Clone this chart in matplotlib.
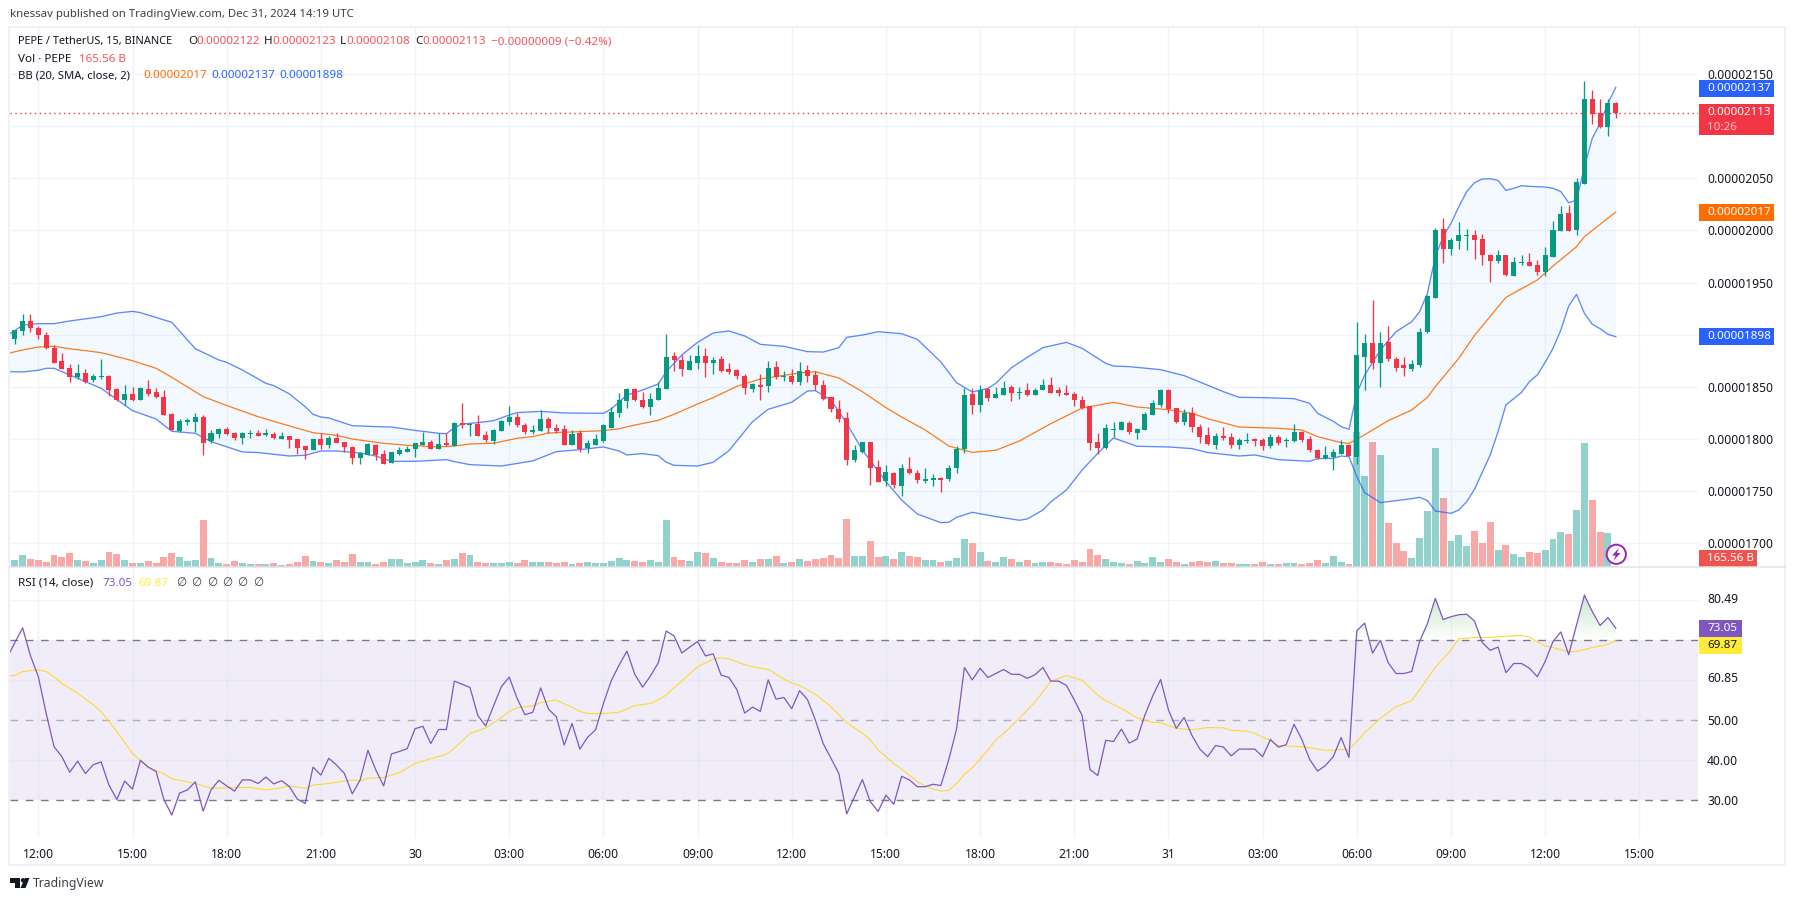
import numpy as np
import matplotlib
matplotlib.use('Agg')
import matplotlib.pyplot as plt
from matplotlib.patches import Rectangle, Circle, Polygon
from matplotlib.ticker import FuncFormatter

plt.rcParams['font.family'] = ['Noto Sans', 'DejaVu Sans']

# prices are in units of 0.00000001, bars are 15 min apart, bar 0 = Dec 29 11:15
opens = [
    1896,1904,1913,1906,1900,1887,1875,1868,1859,1863,
    1857,1859,1860,1848,1837,1843,1837,1848,1845,1840,
    1824,1808,1816,1816,1821,1798,1805,1810,1806,1801,
    1805,1806,1804,1805,1800,1803,1800,1793,1789,1800,
    1794,1801,1797,1792,1782,1785,1794,1786,1777,1786,
    1788,1790,1794,1797,1790,1796,1793,1815,1813,1814,
    1804,1798,1808,1816,1821,1813,1807,1808,1819,1811,
    1810,1794,1806,1791,1794,1798,1811,1825,1836,1848,
    1837,1831,1837,1848,1880,1876,1866,1873,1880,1873,
    1877,1867,1866,1860,1848,1852,1851,1869,1859,1860,
    1855,1866,1861,1852,1840,1829,1820,1780,1788,1797,
    1773,1760,1767,1755,1771,1767,1760,1761,1763,1762,
    1772,1790,1843,1833,1848,1839,1842,1850,1844,1847,
    1842,1847,1852,1847,1844,1843,1837,1832,1797,1791,
    1809,1809,1815,1806,1809,1823,1833,1847,1830,1816,
    1825,1812,1804,1794,1803,1802,1794,1798,1800,1799,
    1793,1802,1798,1798,1807,1800,1789,1782,1783,1786,
    1794,1783,1879,1892,1873,1893,1877,1871,1867,1871,
    1903,1935,2001,1982,1990,1995,1996,1992,1976,1971,
    1976,1956,1969,1970,1967,1960,1975,1999,2017,2000,
    2045,2126,2113,2099,2122]
highs = [
    1905,1920,1920,1908,1903,1890,1882,1872,1872,1867,
    1862,1877,1861,1849,1852,1850,1850,1857,1849,1847,
    1825,1819,1820,1825,1823,1809,1811,1812,1807,1807,
    1809,1809,1810,1807,1807,1803,1800,1793,1800,1806,
    1803,1806,1797,1793,1788,1796,1795,1789,1788,1792,
    1793,1796,1807,1799,1806,1806,1816,1835,1815,1823,
    1808,1810,1818,1832,1825,1815,1813,1828,1821,1814,
    1813,1809,1809,1799,1805,1814,1831,1844,1849,1849,
    1845,1844,1855,1901,1883,1881,1881,1890,1887,1879,
    1880,1873,1867,1862,1854,1862,1875,1875,1865,1867,
    1874,1871,1865,1857,1840,1837,1826,1794,1797,1797,
    1780,1775,1768,1776,1783,1770,1772,1766,1764,1775,
    1793,1849,1849,1852,1849,1850,1856,1852,1850,1854,
    1849,1858,1859,1850,1852,1845,1841,1832,1806,1814,
    1816,1817,1817,1811,1826,1837,1848,1848,1830,1829,
    1831,1814,1812,1806,1812,1806,1801,1806,1801,1801,
    1805,1804,1801,1814,1808,1803,1790,1793,1790,1799,
    1795,1912,1901,1933,1903,1908,1879,1879,1876,1906,
    1938,2002,2012,1993,2008,2001,2000,1997,1977,1981,
    1976,1975,1976,1978,1972,1984,2009,2023,2024,2050,
    2143,2135,2126,2126,2123]
lows = [
    1891,1900,1903,1896,1886,1873,1867,1855,1858,1854,
    1855,1858,1841,1836,1833,1836,1837,1841,1839,1823,
    1809,1807,1813,1807,1785,1796,1801,1804,1799,1795,
    1801,1803,1803,1800,1800,1791,1786,1781,1789,1790,
    1791,1796,1788,1776,1776,1785,1780,1776,1777,1785,
    1788,1783,1794,1790,1790,1793,1793,1811,1803,1803,
    1797,1795,1808,1813,1812,1805,1805,1808,1806,1806,
    1794,1794,1788,1787,1794,1797,1811,1821,1830,1836,
    1830,1823,1837,1848,1865,1860,1866,1867,1859,1862,
    1864,1862,1858,1843,1845,1837,1845,1858,1856,1853,
    1852,1855,1847,1837,1826,1816,1775,1778,1787,1756,
    1759,1755,1753,1745,1766,1758,1758,1755,1749,1760,
    1767,1787,1824,1826,1836,1839,1842,1836,1838,1841,
    1842,1847,1844,1841,1842,1832,1829,1789,1786,1790,
    1802,1809,1805,1800,1809,1823,1831,1825,1815,1813,
    1807,1796,1794,1790,1799,1791,1790,1796,1793,1789,
    1791,1794,1792,1797,1797,1788,1781,1781,1770,1786,
    1784,1776,1847,1867,1850,1875,1865,1860,1865,1869,
    1902,1935,1969,1976,1982,1981,1973,1967,1951,1969,
    1956,1956,1967,1966,1957,1956,1975,1999,1999,1996,
    2045,2102,2098,2091,2108]
closes = [
    1905,1913,1906,1900,1887,1873,1867,1859,1863,1855,
    1860,1860,1847,1837,1843,1837,1849,1843,1840,1823,
    1809,1817,1818,1821,1796,1806,1810,1805,1801,1806,
    1806,1803,1806,1801,1803,1799,1791,1789,1800,1794,
    1801,1796,1792,1782,1787,1795,1785,1776,1788,1789,
    1790,1796,1797,1790,1795,1794,1815,1813,1814,1803,
    1799,1809,1817,1821,1813,1807,1809,1819,1811,1808,
    1794,1805,1790,1796,1800,1813,1826,1837,1848,1837,
    1831,1838,1849,1879,1876,1867,1875,1880,1873,1876,
    1865,1864,1860,1849,1853,1850,1868,1859,1860,1855,
    1865,1860,1852,1838,1829,1819,1780,1789,1797,1772,
    1759,1768,1756,1772,1767,1761,1762,1763,1761,1772,
    1790,1842,1833,1847,1839,1843,1849,1844,1845,1842,
    1847,1852,1844,1844,1842,1837,1830,1796,1791,1811,
    1810,1816,1807,1810,1824,1835,1847,1829,1816,1825,
    1812,1802,1795,1803,1801,1794,1799,1799,1798,1793,
    1802,1796,1799,1807,1799,1789,1782,1785,1788,1794,
    1784,1881,1892,1873,1892,1877,1868,1868,1872,1903,
    1937,2000,1982,1991,1996,1996,1991,1976,1971,1976,
    1957,1970,1970,1966,1960,1976,2000,2016,1999,2046,
    2126,2112,2099,2122,2113]
# volume in billions
volumes = [
    1100,1850,1250,1100,800,1850,1550,2150,1100,950,
    650,1100,2300,2000,1100,650,650,950,650,1550,
    2150,1550,950,1100,7100,1400,650,500,950,650,
    500,500,500,650,350,500,800,1700,950,800,
    650,1100,800,2000,800,800,500,800,1250,1250,
    650,800,1100,650,500,1100,1250,2150,1850,800,
    650,650,650,800,650,1100,800,800,800,650,
    800,500,650,800,650,650,950,1400,1100,950,
    800,1100,800,7100,1550,1100,950,2300,2150,1400,
    800,650,650,1100,800,1250,1250,1700,650,800,
    1250,950,1250,1400,1850,1400,7250,1700,1700,3950,
    1550,1700,1250,2300,1700,1550,1100,1100,800,950,
    1400,4250,3650,2300,950,800,1550,1250,800,1100,
    650,800,800,650,500,1100,800,2750,1850,1250,
    800,650,500,950,650,1550,800,1250,800,500,
    800,950,800,950,650,650,500,500,500,800,
    500,500,650,650,500,650,1100,650,1700,800,
    450,20250,13650,18750,16800,6600,3600,2400,1350,4350,
    8400,17850,10350,3900,4800,3150,5400,3600,6750,2550,
    3300,1950,1500,2250,2100,2550,4200,5250,4950,8550,
    18600,10050,5250,5100,165.56]

upper_bars = [-1,0,1,3,5,7,11,13,15,16,20,23,26,27,29,32,33,35,37,38,39,40,43,46,48,51,54,55,
    56,57,59,61,63,64,67,70,75,76,78,80,82,83,85,87,89,91,93,95,98,101,103,105,106,108,110,
    113,115,118,120,122,124,125,127,129,131,134,136,139,140,142,146,149,154,156,159,163,165,
    166,168,169,170,171,172,174,176,178,179,180,181,182,183,184,185,186,187,188,189,190,191,
    192,193,195,196,197,198,199,200,201,202,203,204]
upper_band = [1899.1,1903.9,1909.3,1910.6,1910.6,1913.2,1917.3,1920.8,1922.4,1921.2,1911.9,1886.6,
    1875.8,1873.5,1866.2,1853.4,1851.2,1843.2,1831,1823.7,1821.1,1820.2,1812.8,1811.9,1811.5,
    1808.3,1805.5,1805.1,1810.9,1814.4,1815.7,1817.6,1823,1825.3,1826.5,1825,1824.6,1828.8,
    1842.2,1847,1852.8,1864.6,1880.6,1892.7,1901.7,1903.6,1898.8,1890.8,1888.9,1883.8,1883.4,
    1887.6,1897.5,1899.7,1902.9,1901,1895.6,1873.9,1854,1845.1,1848.6,1853.4,1868.4,1878.3,
    1887.6,1892.7,1887,1872.6,1870,1869.4,1866.5,1860.8,1845.4,1840,1839.7,1838.7,1834.2,
    1824.6,1817,1811.9,1809.3,1843.8,1861.4,1885.4,1902.9,1912.5,1922.1,1939.7,1974.8,1994,
    2006.8,2022.8,2037.2,2045.8,2049.3,2049.6,2048,2038.4,2040.4,2042.9,2042.3,2041.6,2040.4,
    2037.2,2026.6,2028.9,2061.1,2088.3,2102.7,2121.9,2137.2]

mid_bars = [-1,1,3,5,7,11,13,15,18,20,24,28,31,35,38,41,43,47,50,54,
    56,58,61,64,66,68,73,75,77,79,82,84,87,89,92,95,98,100,102,105,108,111,113,
    116,119,122,125,128,132,136,140,143,147,150,152,156,161,164,166,169,
    170,171,173,175,178,180,181,184,186,190,194,196,199,200,204]
mid_band = [1881.8,1885.4,1888.2,1888.9,1886.6,1882.8,1879,1875.1,1867.8,1859.2,1840.6,1829.4,
    1821.4,1812.5,1806.1,1803.5,1800,1795.9,1794,1792.4,
    1793.3,1795.2,1795.9,1800.7,1802.3,1805.8,1807.4,1808,1809.9,1813.4,1817.9,1823.7,1833.6,
    1839.7,1850.5,1857.6,1861.1,1863.3,1864.6,1858.5,1845.4,1830.1,1821.1,
    1808.7,1793.3,1787.2,1789.2,1798.1,1814.7,1829.7,1835.2,1830.7,1828.1,1824.6,1819.5,
    1811.5,1810.3,1808.7,1802.3,1796.5,
    1795.9,1799.7,1808.6,1817.6,1827.8,1840,1850.2,1877.4,1899.4,1935.8,1952.5,1965.9,1984.4,
    1994,2017.7]

lower_bars = [-1,1,3,4,5,8,11,15,18,20,23,25,29,31,35,37,39,41,44,46,48,51,55,
    56,58,62,66,69,72,75,77,78,80,82,83,84,87,89,91,94,96,99,101,102,104,106,108,111,113,
    115,118,119,120,122,125,128,129,131,132,134,136,138,140,143,147,150,152,156,158,161,165,
    166,168,169,170,171,172,174,178,179,180,181,183,184,185,186,188,189,190,192,193,194,195,
    196,197,198,199,200,201,202,203,204]
lower_band = [1864.6,1864.3,1865.9,1867.8,1867.8,1858.2,1848.6,1827.2,1819.2,1807.4,1805.5,1797.5,
    1787.6,1787,1783.7,1784.4,1788.5,1788.5,1786.6,1783.7,1778.6,1778.6,1780.2,
    1778.3,1775.4,1774.1,1779,1787.9,1789.8,1792.4,1788.5,1784.7,1786,1784,1777.7,1774.8,
    1774.1,1777.7,1788.8,1816.6,1828.5,1835.2,1846,1846.4,1837.4,1815,1789.5,1759.1,1741.5,
    1728.1,1719.8,1720.1,1724.9,1729.7,1725.6,1722.1,1723.3,1731.9,1739.6,1751.1,1770.3,
    1786.3,1801,1793,1792.4,1790.8,1787,1783.7,1784.7,1780.2,1778.6,
    1781.2,1781.5,1783.7,1783,1763.9,1748.6,1739,1742.8,1744.1,1740.9,1731,1728.7,1731.9,
    1739.9,1751.8,1784.7,1807,1832.6,1844.8,1855,1861.4,1873.5,1886.9,1904.5,1927.5,1938.7,
    1920.5,1910,1905.8,1900.4,1898.1]

# rsi starts one bar earlier than the candles, its first point sits under the left edge
rsi = [65.5,
    69.4,73.1,66.1,60.9,51.7,43.4,40.9,37.0,39.8,36.7,
    38.9,39.6,33.8,30.2,34.8,32.8,40.0,38.3,37.2,30.2,
    26.3,31.8,32.6,34.6,27.3,32.6,35.0,33.6,32.3,35.1,
    35.1,34.2,35.8,34.1,34.9,33.4,30.3,29.2,38.3,36.3,
    40.5,38.8,36.7,31.6,35.1,42.5,37.6,33.6,41.6,42.2,
    42.9,47.9,48.5,44.2,47.7,47.7,59.8,59.0,58.2,51.2,
    48.6,53.6,58.4,60.8,55.5,51.4,52.0,58.1,52.8,50.9,
    43.8,49.2,42.8,45.8,47.6,54.2,59.9,63.8,67.3,61.5,
    58.3,61.1,64.4,72.3,71.1,66.8,68.3,69.7,66.1,66.6,
    61.3,60.7,57.7,51.8,53.3,52.2,60.1,55.3,55.7,52.9,
    57.4,55.2,50.1,44.2,40.5,36.7,26.6,30.9,35.2,29.7,
    27.2,31.3,29.0,36.0,35.1,33.4,33.4,34.0,33.7,40.1,
    47.8,63.2,60.1,63.0,60.7,61.7,62.7,61.5,61.5,60.5,
    61.4,63.2,59.8,59.8,58.7,55.1,51.2,37.7,36.2,45.0,
    44.7,47.8,44.3,45.3,51.3,56.1,60.2,52.6,48.0,50.7,
    46.2,42.8,40.9,43.7,43.3,41.1,42.8,42.8,42.8,40.9,
    45.2,43.3,43.9,49.0,45.2,40.2,37.3,38.7,40.9,45.7,
    40.7,72.4,74.3,66.8,70.0,64.4,61.7,61.7,62.2,69.7,
    74.2,80.5,75.2,75.9,76.4,76.5,74.8,69.4,67.5,68.3,
    61.9,64.2,64.2,63.0,60.9,64.7,69.7,72.1,66.4,73.8,
    81.3,77.2,73.7,75.7,73.05]

rsi_ma_bars = [-1,0,1,3,4,5,6,8,10,11,13,15,17,19,20,23,25,28,30,32,33,35,37,38,40,43,44,45,47,49,
    51,53,55,56,58,60,62,63,64,66,67,69,70,71,72,73,75,77,79,81,82,83,84,85,87,89,90,91,93,95,
    96,98,99,100,102,104,106,108,109,110,111,112,113,115,116,117,118,119,120,121,122,124,125,
    126,128,130,132,134,136,138,139,141,143,145,146,148,150,152,154,155,157,158,160,161,163,
    164,167,168,169,170,171,172,174,176,178,179,180,181,183,184,186,188,189,191,192,193,194,
    195,196,197,198,199,200,201,203,204]
rsi_ma = [61.1,61.2,62.2,62.6,62.2,60.9,59.2,56.8,53.9,52.2,47.2,41.7,38.2,36.6,35.4,34.2,33.0,33.2,
    33.2,32.6,32.8,33.6,33.0,33.8,34.2,35.1,34.9,35.5,35.7,36.9,39.2,40.4,41.5,43.0,46.7,48.1,
    50.7,52.2,53.1,53.6,54.4,55.1,54.1,53.3,52.2,51.7,51.7,52.0,53.7,54.2,55.1,56.3,58.2,59.8,
    63.4,65.3,65.6,65.4,63.9,63.0,62.7,60.3,59.3,58.7,56.5,53.4,49.4,46.8,45.1,42.6,40.9,39.1,
    37.8,34.7,33.6,32.8,32.3,32.5,34.2,36.5,38.1,42.6,45.1,46.7,50.5,54.6,59.7,61.2,60.0,56.3,
    54.9,53.0,50.6,49.5,49.4,48.0,47.6,48.2,48.1,47.5,47.3,46.7,44.9,43.7,43.5,43.4,42.5,42.5,
    42.7,42.7,44.7,46.9,50.5,53.4,54.9,57.6,60.5,63.2,67.6,70.4,70.7,70.7,70.9,71.1,71.2,70.8,
    69.6,68.6,68.2,67.6,67.2,67.2,67.7,68.2,69.0,69.87]

time_labels = ['12:00','15:00','18:00','21:00','30','03:00','06:00','09:00','12:00','15:00',
    '18:00','21:00','31','03:00','06:00','09:00','12:00','15:00']
price_ticks = [1700,1750,1800,1850,1900,1950,2000,2050,2100,2150]
rsi_tick_values = [80.49,60.85,50.00,40.00,30.00]
rsi_grid = [80,60,40]

W, H = 1794, 901
LEFT, RIGHT, TOP, SPLIT, BOTTOM = 10, 1698, 27, 567, 838
X0, DX = 14.8, 7.848   # pixel of bar 0, pixels per bar

UP, DOWN = '#089981', '#f23645'
VOL_UP, VOL_DOWN = '#92d2cc', '#f7a9a7'
BLUE, ORANGE, PURPLE, YELLOW = '#2962ff', '#ff6d00', '#7e57c2', '#fdd835'
GRID = '#f0f3fa'
TEXT = '#131722'
FS = 8.7
FS_LEGEND = 8.4


def rect_px(l, t, r, b):
    return [l / W, 1 - b / H, (r - l) / W, (b - t) / H]


def gradient_fill(ax, xs, ys, level, far, rgb, alpha):
    # shaded part of the rsi outside the 30-70 band, fades towards the level line
    ys = np.array(ys)
    clipped = np.maximum(ys, level) if far > level else np.minimum(ys, level)
    verts = list(zip(xs, clipped)) + [(xs[-1], level), (xs[0], level)]
    grad = np.zeros((64, 1, 4))
    grad[..., :3] = rgb
    grad[:, 0, 3] = np.linspace(0, alpha, 64)
    img = ax.imshow(grad, extent=[xs[0], xs[-1], level, far], origin='lower', aspect='auto', zorder=1)
    img.set_clip_path(Polygon(verts, transform=ax.transData))


fig = plt.figure(figsize=(W / 100, H / 100), dpi=100, facecolor='white')

bars = np.arange(len(closes))
xlim = ((LEFT - X0) / DX, (RIGHT - X0) / DX)
time_pos = 3 + 12 * np.arange(len(time_labels))

# volume goes under everything in the top pane
ax_vol = fig.add_axes(rect_px(LEFT, TOP, RIGHT, SPLIT))
ax_price = fig.add_axes(rect_px(LEFT, TOP, RIGHT, SPLIT), sharex=ax_vol)
ax_price.patch.set_visible(False)
ax_price.set_xlim(*xlim)
price_low = 2150 - (SPLIT - 74) / 1.0429
price_high = 2150 + (74 - TOP) / 1.0429
ax_price.set_ylim(price_low, price_high)
ax_vol.set_ylim(0, (SPLIT - TOP) * 150)

ax_vol.vlines(time_pos, 0, 1, transform=ax_vol.get_xaxis_transform(), color=GRID, lw=1, zorder=0)
ax_vol.hlines(price_ticks, xlim[0], xlim[1], transform=ax_price.transData, color=GRID, lw=1, zorder=0)
is_up = np.array(closes) >= np.array(opens)
ax_vol.bar(bars, volumes, width=0.88, color=[VOL_UP if u else VOL_DOWN for u in is_up], zorder=1)
ax_vol.set_yticks([])
ax_vol.tick_params(bottom=False, labelbottom=False)

band_x = list(upper_bars) + list(lower_bars)[::-1]
band_y = list(upper_band) + list(lower_band)[::-1]
ax_price.fill(band_x, band_y, color='#2196f3', alpha=0.05, lw=0, zorder=1)
ax_price.plot(mid_bars, mid_band, color=ORANGE, lw=0.9, alpha=0.9, zorder=2)
ax_price.plot(upper_bars, upper_band, color=BLUE, lw=0.95, alpha=0.75, zorder=2)
ax_price.plot(lower_bars, lower_band, color=BLUE, lw=0.95, alpha=0.75, zorder=2)

colors = [UP if u else DOWN for u in is_up]
ax_price.vlines(bars, lows, highs, color=colors, lw=0.95, zorder=3)
body = np.maximum(np.abs(np.array(closes) - np.array(opens)), 1)
ax_price.bar(bars, body, bottom=np.minimum(opens, closes), width=0.64, color=colors, lw=0, zorder=4)
ax_price.plot(xlim, [closes[-1], closes[-1]], color=DOWN, lw=1, dashes=(1, 2.5), zorder=5)

ax_price.yaxis.tick_right()
ax_price.set_yticks([t for t in price_ticks if t != 2100])
ax_price.yaxis.set_major_formatter(FuncFormatter(lambda v, p: '%.8f' % (v * 1e-8)))
ax_price.tick_params(axis='y', length=0, pad=6.5, labelsize=FS, labelcolor=TEXT)
ax_price.tick_params(axis='x', bottom=False, labelbottom=False)
for ax in (ax_vol, ax_price):
    for s in ax.spines.values():
        s.set_visible(False)

# rsi pane
ax_rsi = fig.add_axes(rect_px(LEFT, SPLIT, RIGHT, BOTTOM))
ax_rsi.patch.set_visible(False)
rsi_low = 30 - (BOTTOM - 800.3) / 4
rsi_high = 70 + (640.3 - SPLIT) / 4
rsi_x = np.arange(-1, len(closes))
ax_rsi.axhspan(30, 70, color=PURPLE, alpha=0.1, lw=0, zorder=0)
ax_rsi.vlines(time_pos, rsi_low, rsi_high, color=GRID, lw=1, zorder=0.5)
ax_rsi.hlines(rsi_grid, xlim[0], xlim[1], color=GRID, lw=1, zorder=0.5)
ax_rsi.vlines(time_pos, 30, 70, color='#7e57c2', alpha=0.07, lw=1, zorder=0.6)
ax_rsi.hlines([60, 40], xlim[0], xlim[1], color='#7e57c2', alpha=0.07, lw=1, zorder=0.6)
gradient_fill(ax_rsi, rsi_x, rsi, 70, 82, (0.30, 0.69, 0.31), 0.32)
gradient_fill(ax_rsi, rsi_x, rsi, 30, 25, (1.0, 0.32, 0.32), 0.1)
for level, a in ((70, 1), (50, 0.55), (30, 1)):
    ax_rsi.plot(xlim, [level, level], color='#787b86', lw=1, alpha=a, dashes=(5.5, 5.5), zorder=2)
ax_rsi.plot(rsi_ma_bars, rsi_ma, color=YELLOW, lw=0.8, zorder=3)
ax_rsi.plot(rsi_x, rsi, color=PURPLE, lw=0.9, zorder=4)
ax_rsi.set_xlim(*xlim)
ax_rsi.set_ylim(rsi_low, rsi_high)
ax_rsi.yaxis.tick_right()
ax_rsi.set_yticks(rsi_tick_values)
ax_rsi.set_yticklabels(['%.2f' % v for v in rsi_tick_values])
ax_rsi.set_xticks(time_pos)
ax_rsi.set_xticklabels(time_labels)
ax_rsi.tick_params(axis='y', length=0, pad=6.5, labelsize=FS, labelcolor=TEXT)
ax_rsi.tick_params(axis='x', length=0, pad=7, labelsize=FS, labelcolor=TEXT)
for s in ax_rsi.spines.values():
    s.set_visible(False)

# everything else sits on a pixel overlay: frame, header, value tags, logo
ov = fig.add_axes([0, 0, 1, 1], zorder=10)
ov.set_xlim(0, W)
ov.set_ylim(H, 0)
ov.axis('off')
ov.plot([9, 1785, 1785, 9, 9], [27, 27, 865, 865, 27], color='#eff1f7', lw=1.6)
ov.plot([9, 1785], [567, 567], color='#e0e3eb', lw=1.1)


def txt(x, y, s, color=TEXT, **kw):
    kw.setdefault('fontsize', FS_LEGEND)
    ov.text(x, y, s, color=color, va='center', ha=kw.pop('ha', 'left'), **kw)


def tag(top, bottom, right, s, face, color='white'):
    ov.add_patch(Rectangle((1699, top), right - 1699, bottom - top, color=face, lw=0))
    txt(1707, (top + bottom) / 2, s, color=color, fontweight='bold', fontsize=FS - 0.3)


txt(10, 15, 'knessav published on TradingView.com, Dec 31, 2024 14:19 UTC', color='#3c3f48', fontsize=8.2)

RED = '#f7525f'
txt(18, 41.5, 'PEPE / TetherUS, 15, BINANCE', fontsize=7.9)
for x, s, c in ((188, 'O', TEXT), (196, '0.00002122', RED), (264, 'H', TEXT), (272, '0.00002123', RED),
                (340, 'L', TEXT), (346, '0.00002108', RED), (415, 'C', TEXT), (422, '0.00002113', RED),
                (491, '−0.00000009 (−0.42%)', RED)):
    txt(x, 41.5, s, color=c)
txt(18, 59, 'Vol · PEPE')
txt(79, 59, '165.56 B', color=RED)
txt(18, 76, 'BB (20, SMA, close, 2)', fontsize=8.1)
txt(143, 76, '0.00002017', color=ORANGE)
txt(211, 76, '0.00002137', color=BLUE)
txt(279, 76, '0.00001898', color=BLUE)

txt(18, 583, 'RSI (14, close)')
txt(102, 583, '73.05', color=PURPLE)
txt(138, 583, '69.87', color='#ffeb3b')
for x in (176, 191, 207, 222, 237, 253):
    txt(x, 583, '∅', color='#3c3f48')

tag(80, 97, 1774, '0.00002137', BLUE)
ov.add_patch(Rectangle((1699, 104), 75, 31, color=DOWN, lw=0))
txt(1707, 112.5, '0.00002113', color='white', fontweight='bold', fontsize=FS - 0.3)
txt(1707, 127, '10:26', color='#fbc4c9', fontweight='bold', fontsize=FS - 0.3)
tag(204, 221, 1774, '0.00002017', ORANGE)
tag(328, 345, 1774, '0.00001898', BLUE)
tag(550, 567, 1757, '165.56 B', '#ef5350')
tag(620, 637, 1742, '73.05', PURPLE)
tag(637, 654, 1742, '69.87', '#ffeb3b', color=TEXT)

# the little lightning button on the last volume bar
ov.add_patch(Circle((1616.3, 554.3), 9.6, fc='white', ec='#9c27b0', lw=1.4))
ov.add_patch(Polygon([(1619, 548), (1612, 555.5), (1615.6, 555.5), (1613.6, 560.5),
                      (1620.6, 553), (1617, 553)], color='#9c27b0', lw=0))

# TradingView wordmark
ov.add_patch(Polygon([(10, 878), (20, 878), (20, 888), (15, 888), (15, 883), (10, 883)], color=TEXT, lw=0))
ov.add_patch(Circle((23, 880.3), 2.2, color=TEXT, lw=0))
ov.add_patch(Polygon([(25, 878), (29.5, 878), (25.5, 888), (20.5, 888)], color=TEXT, lw=0))
txt(33, 883.5, 'TradingView', color='#3c3f48', fontsize=8.8)

fig.savefig('out.png', dpi=100)
